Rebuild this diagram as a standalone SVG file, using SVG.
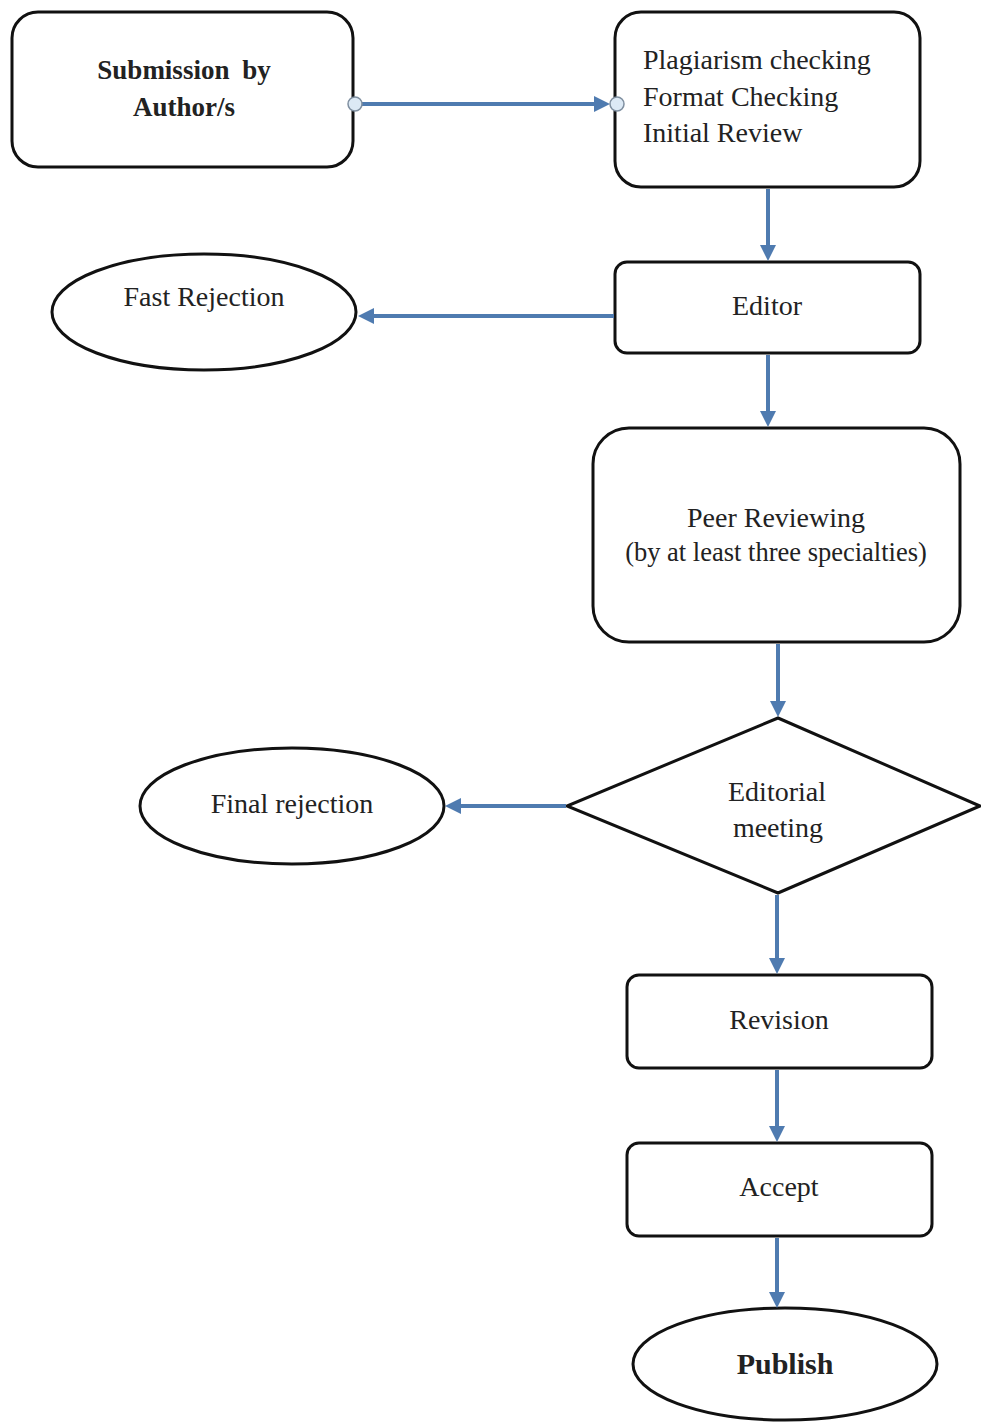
<svg xmlns="http://www.w3.org/2000/svg" width="981" height="1423" viewBox="0 0 981 1423">
<style>
.box{fill:#fff;stroke:#111;stroke-width:3}
.t{font-family:"Liberation Serif","Times New Roman",serif;font-size:28px;fill:#222;text-anchor:middle}
.tl{font-family:"Liberation Serif","Times New Roman",serif;font-size:28px;fill:#222}
.b{font-weight:bold}
.c{stroke:#4f7bb0;stroke-width:4;fill:none}
.dot{fill:#dce9f5;stroke:#7f8fa0;stroke-width:1.5}
</style>
<defs>
<marker id="ah" markerWidth="4" markerHeight="4" refX="3" refY="2" orient="auto" markerUnits="strokeWidth">
<path d="M0,0 L4,2 L0,4 Z" fill="#4f7bb0"/>
</marker>
</defs>
<rect width="981" height="1423" fill="#fff"/>
<g id="submission">
<rect class="box" x="12" y="12" width="341" height="155" rx="26"/>
<text class="t b" x="184" y="79" style="font-size:27px;word-spacing:6px">Submission by</text>
<text class="t b" x="184" y="116" style="font-size:27px">Author/s</text>
</g>
<g id="checking">
<rect class="box" x="615" y="12" width="305" height="175" rx="26"/>
<text class="tl" x="643" y="69">Plagiarism checking</text>
<text class="tl" x="643" y="106">Format Checking</text>
<text class="tl" x="643" y="142">Initial Review</text>
</g>
<g id="editor">
<rect class="box" x="615" y="262" width="305" height="91" rx="12"/>
<text class="t" x="767" y="315">Editor</text>
</g>
<g id="fast-rejection">
<ellipse class="box" cx="204" cy="312" rx="152" ry="58"/>
<text class="t" x="204" y="306">Fast Rejection</text>
</g>
<g id="peer">
<rect class="box" x="593" y="428" width="367" height="214" rx="36"/>
<text class="t" x="776" y="527">Peer Reviewing</text>
<text class="t" x="776" y="561" style="font-size:26.5px">(by at least three specialties)</text>
</g>
<g id="editorial-meeting">
<polygon class="box" points="778,718 980,806 778,893 567,806"/>
<text class="t" x="777" y="801">Editorial</text>
<text class="t" x="778" y="837">meeting</text>
</g>
<g id="final-rejection">
<ellipse class="box" cx="292" cy="806" rx="152" ry="58"/>
<text class="t" x="292" y="813">Final rejection</text>
</g>
<g id="revision">
<rect class="box" x="627" y="975" width="305" height="93" rx="12"/>
<text class="t" x="779" y="1029">Revision</text>
</g>
<g id="accept">
<rect class="box" x="627" y="1143" width="305" height="93" rx="12"/>
<text class="t" x="779" y="1196">Accept</text>
</g>
<g id="publish">
<ellipse class="box" cx="785" cy="1364" rx="152" ry="56"/>
<text class="t b" x="785" y="1374" style="font-size:30px">Publish</text>
</g>
<g id="connectors">
<line class="c" x1="356" y1="104" x2="606" y2="104" marker-end="url(#ah)"/>
<circle class="dot" cx="355" cy="104" r="7"/>
<circle class="dot" cx="617" cy="104" r="7"/>
<line class="c" x1="768" y1="189" x2="768" y2="257" marker-end="url(#ah)"/>
<line class="c" x1="614" y1="316" x2="362" y2="316" marker-end="url(#ah)"/>
<line class="c" x1="768" y1="355" x2="768" y2="423" marker-end="url(#ah)"/>
<line class="c" x1="778" y1="644" x2="778" y2="713" marker-end="url(#ah)"/>
<line class="c" x1="566" y1="806" x2="449" y2="806" marker-end="url(#ah)"/>
<line class="c" x1="777" y1="895" x2="777" y2="970" marker-end="url(#ah)"/>
<line class="c" x1="777" y1="1070" x2="777" y2="1138" marker-end="url(#ah)"/>
<line class="c" x1="777" y1="1238" x2="777" y2="1304" marker-end="url(#ah)"/>
</g>
</svg>
